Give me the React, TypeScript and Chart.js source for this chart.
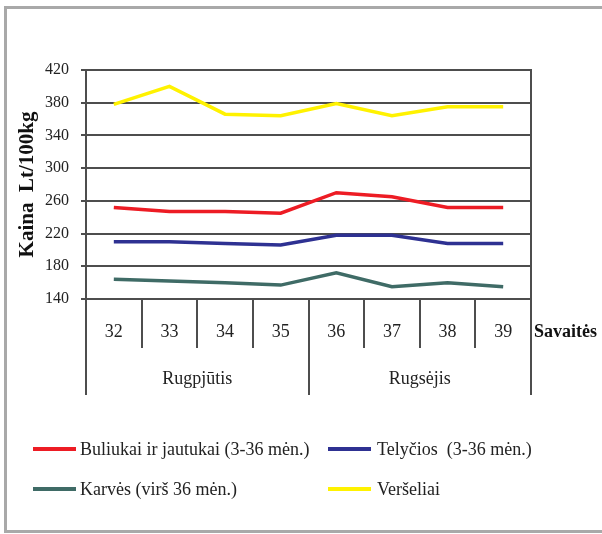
import React, { useEffect, useRef } from 'react';
import { Chart, registerables } from 'chart.js';

Chart.register(...registerables);

// ---- data ----
const weeks = ['32', '33', '34', '35', '36', '37', '38', '39'];
const months = ['Rugpjūtis', 'Rugsėjis'];
const weeksPerMonth = [4, 4];
const xAxisName = 'Savaitės';
const yAxisTitle = 'Kaina  Lt/100kg';
const yMin = 140;
const yMax = 420;
const yStep = 40;

const seriesNames = [
  'Buliukai ir jautukai (3-36 mėn.)',
  'Telyčios  (3-36 mėn.)',
  'Karvės (virš 36 mėn.)',
  'Veršeliai',
];
const buliukai = [252, 247, 247, 245, 270, 265, 252, 252];
const telycios = [210, 210, 208, 206, 218, 218, 208, 208];
const karves = [164, 162, 160, 157, 172, 155, 160, 155];
const verseliai = [378, 400, 366, 364, 379, 364, 375, 375];
const seriesColors = ['#ed1c24', '#2e3192', '#3f6b66', '#fff200'];

const SERIF = '"Liberation Serif", "Times New Roman", serif';
const GRID = '#4d4d4d';

const bandPlugin = {
  id: 'weekMonthBand',
  afterDraw(chart: any) {
    const { ctx, chartArea } = chart;
    const x = chart.scales.x;
    const top = chartArea.bottom;
    const weekBottom = top + 49;
    const monthBottom = top + 96;
    ctx.save();
    ctx.strokeStyle = GRID;
    ctx.lineWidth = 2;
    const vline = (px: number, y1: number, y2: number) => {
      const ax = Math.round(px);
      ctx.beginPath();
      ctx.moveTo(ax, y1);
      ctx.lineTo(ax, y2);
      ctx.stroke();
    };
    // right frame of plot
    vline(chartArea.right, chartArea.top - 1, top);
    // week dividers
    for (let i = 0; i <= weeks.length; i++) {
      vline(x.getPixelForValue(i - 0.5), top, weekBottom);
    }
    // month dividers
    let acc = 0;
    vline(x.getPixelForValue(-0.5), top, monthBottom);
    weeksPerMonth.forEach((n) => {
      acc += n;
      vline(x.getPixelForValue(acc - 0.5), top, monthBottom);
    });
    // labels
    ctx.fillStyle = '#222';
    ctx.textAlign = 'center';
    ctx.textBaseline = 'middle';
    ctx.font = `18px ${SERIF}`;
    weeks.forEach((w, i) => ctx.fillText(w, x.getPixelForValue(i), top + 33));
    acc = 0;
    months.forEach((m, k) => {
      const n = weeksPerMonth[k];
      const c = x.getPixelForValue(acc + n / 2 - 0.5);
      ctx.fillText(m, c, top + 80);
      acc += n;
    });
    ctx.textAlign = 'left';
    ctx.font = `bold 18px ${SERIF}`;
    ctx.fillStyle = '#111';
    ctx.fillText(xAxisName, chartArea.right + 3, top + 33);
    ctx.restore();
  },
};

function ChartCanvas() {
  const ref = useRef<HTMLCanvasElement | null>(null);
  useEffect(() => {
    if (!ref.current) return;
    const data = [buliukai, telycios, karves, verseliai];
    const chart = new Chart(ref.current, {
      type: 'line',
      data: {
        labels: weeks,
        datasets: data.map((d, i) => ({
          label: seriesNames[i],
          data: d,
          borderColor: seriesColors[i],
          backgroundColor: seriesColors[i],
          borderWidth: 3.5,
          pointRadius: 0,
          tension: 0,
          fill: false,
        })),
      },
      options: {
        responsive: false,
        animation: false,
        devicePixelRatio: 1,
        layout: { padding: { left: 12, top: 70, right: 71, bottom: 235 } },
        plugins: { legend: { display: false }, tooltip: { enabled: false } },
        scales: {
          x: {
            type: 'category',
            offset: true,
            grid: { display: false, drawTicks: false },
            border: { display: false },
            ticks: { display: false },
          },
          y: {
            min: yMin,
            max: yMax,
            afterFit(scale: any) {
              scale.width = 74;
            },
            ticks: {
              stepSize: yStep,
              color: '#222',
              padding: 12,
              font: { family: SERIF, size: 16 },
            },
            grid: { color: GRID, lineWidth: 2, tickLength: 5, drawTicks: true },
            border: { display: true, color: GRID, width: 2 },
            title: {
              display: true,
              text: yAxisTitle,
              color: '#111',
              font: { family: SERIF, size: 21, weight: 'bold' },
              padding: { top: 3, bottom: 3 },
            },
          },
        },
      },
      plugins: [bandPlugin],
    });
    return () => chart.destroy();
  }, []);
  return <canvas ref={ref} width={602} height={534} style={{ position: 'absolute', left: 0, top: 0 }} />;
}

const legendPos = [
  { lineX: 33, lineW: 43, textX: 80, y: 449 },
  { lineX: 328, lineW: 43, textX: 377, y: 449 },
  { lineX: 33, lineW: 43, textX: 80, y: 489 },
  { lineX: 328, lineW: 43, textX: 377, y: 489 },
];

export default function App() {
  return (
    <div
      style={{
        position: 'absolute',
        left: 0,
        top: 0,
        width: 602,
        height: 534,
        overflow: 'hidden',
        background: '#fff',
      }}
    >
      <div
        style={{
          position: 'absolute',
          left: 4,
          top: 6,
          width: 700,
          height: 527,
          boxSizing: 'border-box',
          border: '3px solid #a9a9a9',
        }}
      />
      <ChartCanvas />
      {seriesNames.map((name, i) => {
        const p = legendPos[i];
        return (
          <React.Fragment key={name}>
            <div
              style={{
                position: 'absolute',
                left: p.lineX,
                top: p.y - 2,
                width: p.lineW,
                height: 4,
                background: seriesColors[i],
              }}
            />
            <div
              style={{
                position: 'absolute',
                left: p.textX,
                top: p.y - 11,
                height: 22,
                lineHeight: '22px',
                fontFamily: SERIF,
                fontSize: 18,
                color: '#222',
                whiteSpace: 'pre',
              }}
            >
              {name}
            </div>
          </React.Fragment>
        );
      })}
    </div>
  );
}
